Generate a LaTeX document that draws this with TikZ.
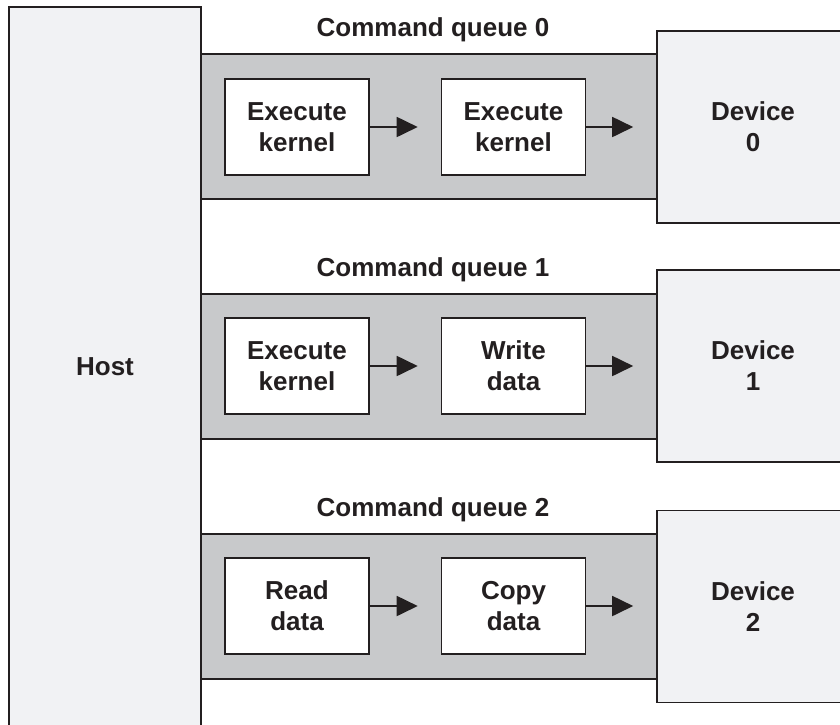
\documentclass[tikz,border=0pt]{standalone}
\usepackage{fontspec}
\setmainfont{Liberation Sans}
\usetikzlibrary{arrows.meta,calc}
\definecolor{bandgray}{HTML}{C8C9CB}
\definecolor{lightbox}{HTML}{F1F2F4}
\definecolor{edge}{HTML}{231F20}
\begin{document}
\begin{tikzpicture}[x=1pt,y=-1pt,
  txt/.style={font=\fontsize{26}{31}\selectfont\bfseries, text=edge},
  bigbox/.style={txt, draw=edge, line width=1.4pt, fill=lightbox, minimum width=192pt, minimum height=192pt, inner sep=0pt, align=center},
  hostbox/.style={bigbox, minimum height=720pt},
  band/.style={draw=edge, line width=1.4pt, fill=bandgray, minimum width=456pt, minimum height=145pt, inner sep=0pt},
  stage/.style={txt, draw=edge, line width=1.4pt, fill=white, minimum width=144pt, minimum height=96pt, inner sep=0pt, align=center},
  qlabel/.style={txt, inner sep=0pt},
  arr/.style={draw=edge, line width=1.8pt, -{Triangle[length=21pt,width=20pt]}}
]
\useasboundingbox (0,0) rectangle (840,724);
\clip (0,0) rectangle (840,724);
\fill[white] (0,0) rectangle (840,724);

% bands
\foreach \k in {0,1,2} {
  \node[band] (q\k) at (429,126.5+240*\k) {};
}
\node[hostbox] (host) at (105,367) {Host};

\node[bigbox] (d0) at (753,127) {Device\\0};
\node[bigbox] (d1) at (753,366) {Device\\1};
\node[bigbox] (d2) at (753,606.5) {Device\\2};

\node[qlabel] (l0) at (433,30) {Command queue 0};
\node[qlabel] (l1) at (433,270) {Command queue 1};
\node[qlabel] (l2) at (433,510) {Command queue 2};

\node[stage] (a0) at (297,127) {Execute\\kernel};
\node[stage] (b0) at (513.5,127) {Execute\\kernel};
\node[stage] (a1) at (297,366) {Execute\\kernel};
\node[stage] (b1) at (513.5,366) {Write\\data};
\node[stage] (a2) at (297,606) {Read\\data};
\node[stage] (b2) at (513.5,606) {Copy\\data};

\foreach \k in {0,1,2} {
  \coordinate (e\k) at ($(b\k.east)+(47,0)$);
  \draw[arr] (a\k.east) -- ($(a\k.east)+(48,0)$);
  \draw[arr] (b\k.east) -- (e\k);
}
\end{tikzpicture}
\end{document}
